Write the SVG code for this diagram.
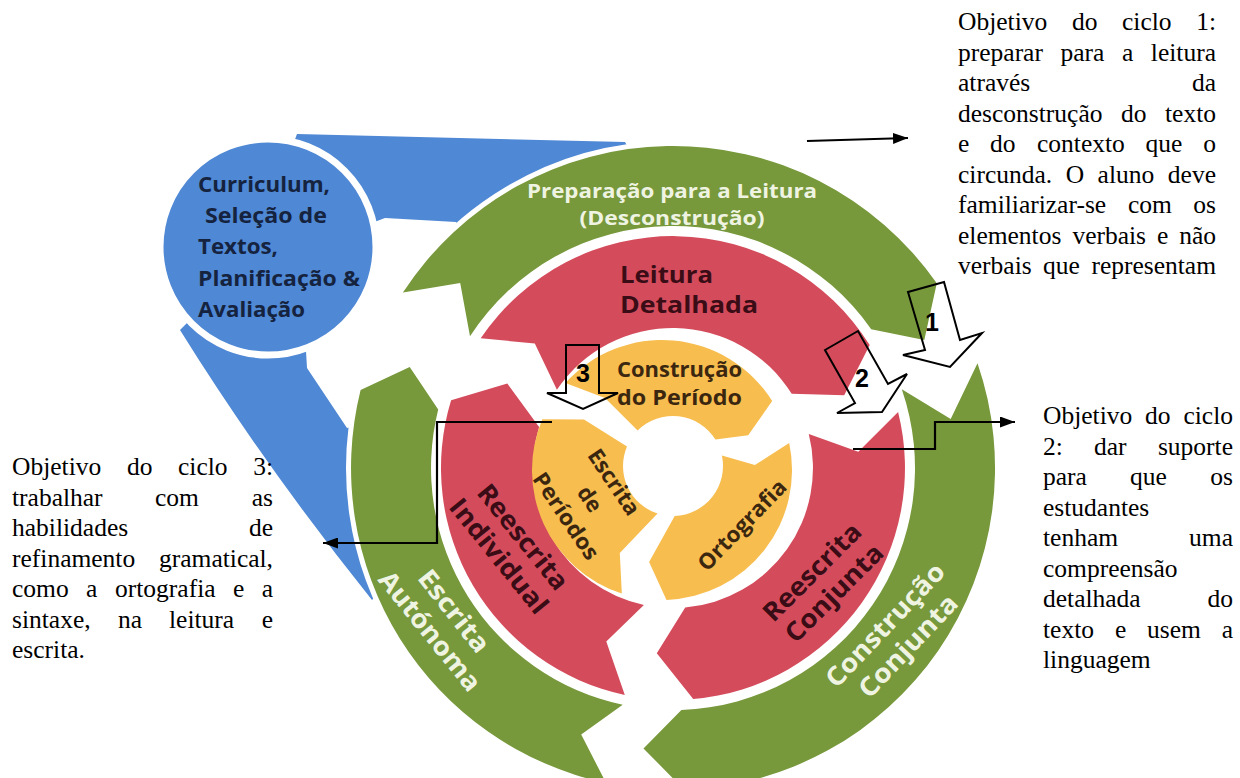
<svg xmlns="http://www.w3.org/2000/svg" width="1240" height="778" viewBox="0 0 1240 778">
<style>
.g{fill:#77983b;stroke:#fff;stroke-width:10;paint-order:stroke;stroke-linejoin:round}
.r{fill:#d44c5c}
.y{fill:#f7bd4f}
.bl{fill:#4f88d4}
.lbl{font-family:"Open Sans","Liberation Sans",sans-serif;font-weight:700}
.gt{fill:#eff4e2}
.rt{fill:#3a0c16}
.yt{fill:#3b2710}
.ct{fill:#15233f;font-size:21px}
.para{font-family:"Liberation Serif","Times New Roman",serif;font-size:25.5px;fill:#000}
.e{text-anchor:end}
.blk{fill:none;stroke:#000;stroke-width:2;stroke-linejoin:miter}
.num{font-family:"Liberation Sans",Arial,sans-serif;font-weight:700;font-size:25px;fill:#000}
.cn{fill:none;stroke:#000;stroke-width:2.2}
</style>
<defs>
<marker id="ah" viewBox="0 0 10 10" refX="10" refY="5" markerUnits="userSpaceOnUse" markerWidth="15" markerHeight="11" orient="auto" preserveAspectRatio="none"><path d="M0,0 L10,5 L0,10 Z" fill="#000"/></marker>
</defs>
<rect width="1240" height="778" fill="#fff"/>

<g id="planning">
<path class="bl" d="M180,330 L250,260 L297,134 L625,142 L648,182 L479,253 L456,222 L385,218 L300,250 L307,368 L347,428 L387,418 L401,567 L372,600 Q264,465 180,330 Z"/>
<circle class="bl" cx="268" cy="247" r="108" stroke="#fff" stroke-width="7"/>
<g class="lbl ct">
<text x="198" y="192" textLength="132" lengthAdjust="spacingAndGlyphs">Curriculum,</text>
<text x="205" y="223" textLength="122" lengthAdjust="spacingAndGlyphs">Seleção de</text>
<text x="198" y="254" textLength="80" lengthAdjust="spacingAndGlyphs">Textos,</text>
<text x="198" y="286" textLength="162" lengthAdjust="spacingAndGlyphs">Planificação &amp;</text>
<text x="198" y="317" textLength="107" lengthAdjust="spacingAndGlyphs">Avaliação</text>
</g>
</g>

<g id="cycle1-preparacao">
<path class="g" d="M402.9,292.6 A322,322 0 0 1 936.8,283.3 L924.3,340.0 L871.2,329.2 A242,242 0 0 0 470.0,336.2 L460.2,283.0 Z"/>
<text class="lbl gt" x="672" y="198" font-size="20" text-anchor="middle" textLength="290" lengthAdjust="spacingAndGlyphs">Preparação para a Leitura</text>
<text class="lbl gt" x="672" y="225" font-size="20" text-anchor="middle" textLength="185" lengthAdjust="spacingAndGlyphs">(Desconstrução)</text>
</g>
<g id="cycle1-construcao">
<path class="g" d="M977.5,363.2 A322,322 0 0 1 684.2,789.8 L643.5,748.4 L681.4,709.9 A242,242 0 0 0 901.8,389.2 L950.7,419.0 Z"/>
<text class="lbl gt" transform="translate(885,625) rotate(-46.5)" font-size="26" text-anchor="middle" dy="0.35em" textLength="160" lengthAdjust="spacingAndGlyphs">Construção</text>
<text class="lbl gt" transform="translate(908,646) rotate(-46.5)" font-size="26" text-anchor="middle" dy="0.35em" textLength="131" lengthAdjust="spacingAndGlyphs">Conjunta</text>
</g>
<g id="cycle1-autonoma">
<path class="g" d="M606.1,783.0 A322,322 0 0 1 360.6,390.1 L409.7,366.9 L438.2,409.5 A242,242 0 0 0 622.7,704.7 L581.2,734.6 Z"/>
<text class="lbl gt" transform="translate(454,611) rotate(51.5)" font-size="26" text-anchor="middle" dy="0.35em" textLength="98" lengthAdjust="spacingAndGlyphs">Escrita</text>
<text class="lbl gt" transform="translate(430,631) rotate(51)" font-size="26" text-anchor="middle" dy="0.35em" textLength="146" lengthAdjust="spacingAndGlyphs">Autónoma</text>
</g>

<g id="cycle2-leitura">
<path class="r" d="M480.7,338.3 A232,232 0 0 1 869.7,345.1 L844.2,395.3 L791.7,393.8 A140,140 0 0 0 556.9,389.7 L534.8,343.5 Z"/>
<text class="lbl rt" x="620" y="283" font-size="24" textLength="93" lengthAdjust="spacingAndGlyphs">Leitura</text>
<text class="lbl rt" x="620" y="313" font-size="24" textLength="138" lengthAdjust="spacingAndGlyphs">Detalhada</text>
</g>
<g id="cycle2-conjunta">
<path class="r" d="M898.1,411.9 A232,232 0 0 1 693.2,699.1 L656.8,653.3 L685.2,607.5 A140,140 0 0 0 808.8,434.1 L858.3,451.8 Z"/>
<text class="lbl rt" transform="translate(812,572) rotate(-45)" font-size="26" text-anchor="middle" dy="0.35em" textLength="127" lengthAdjust="spacingAndGlyphs">Reescrita</text>
<text class="lbl rt" transform="translate(834,593) rotate(-45)" font-size="26" text-anchor="middle" dy="0.35em" textLength="127" lengthAdjust="spacingAndGlyphs">Conjunta</text>
</g>
<g id="cycle2-individual">
<path class="r" d="M624.8,694.9 A232,232 0 0 1 451.1,400.2 L507.3,383.6 L539.1,427.1 A140,140 0 0 0 643.9,604.9 L606.3,641.6 Z"/>
<text class="lbl rt" transform="translate(523,537) rotate(51)" font-size="26" text-anchor="middle" dy="0.35em" textLength="128" lengthAdjust="spacingAndGlyphs">Reescrita</text>
<text class="lbl rt" transform="translate(499,556) rotate(51)" font-size="26" text-anchor="middle" dy="0.35em" textLength="140" lengthAdjust="spacingAndGlyphs">Individual</text>
</g>

<g id="cycle3-construcao">
<path class="y" d="M565.4,383.0 A130,130 0 0 1 772.2,401.1 L748.2,435.2 L715.4,439.5 A50,50 0 0 0 637.6,430.6 L605.0,398.0 Z"/>
<text class="lbl yt" x="617" y="377" font-size="21" textLength="125" lengthAdjust="spacingAndGlyphs">Construção</text>
<text class="lbl yt" x="617" y="405" font-size="21" textLength="125" lengthAdjust="spacingAndGlyphs">do Período</text>
</g>
<g id="cycle3-ortografia">
<path class="y" d="M789.2,443.0 A130,130 0 0 1 666.5,599.9 L649.1,562.1 L674.7,516.0 A50,50 0 0 0 721.9,455.6 L754.9,465.1 Z"/>
<text class="lbl yt" transform="translate(742,525) rotate(-46)" font-size="22" text-anchor="middle" dy="0.35em" textLength="117" lengthAdjust="spacingAndGlyphs">Ortografia</text>
</g>
<g id="cycle3-escrita">
<path class="y" d="M621.8,593.6 A130,130 0 0 1 542.3,419.2 L584.0,419.4 L627.0,446.5 A50,50 0 0 0 657.5,513.6 L619.8,552.9 Z"/>
<text class="lbl yt" transform="translate(614,482) rotate(56)" font-size="22" text-anchor="middle" dy="0.35em" textLength="75" lengthAdjust="spacingAndGlyphs">Escrita</text>
<text class="lbl yt" transform="translate(590,499) rotate(56)" font-size="22" text-anchor="middle" dy="0.35em" textLength="26" lengthAdjust="spacingAndGlyphs">de</text>
<text class="lbl yt" transform="translate(566,516) rotate(56)" font-size="22" text-anchor="middle" dy="0.35em" textLength="100" lengthAdjust="spacingAndGlyphs">Períodos</text>
</g>

<g id="arrow-1">
<polygon class="blk" points="908,292 944,282 960,340 982,333 950,367 903,355 925,350"/>
<text class="num" x="932" y="331" text-anchor="middle">1</text>
</g>
<g id="arrow-2">
<polygon class="blk" points="825,350 858,331 888,384 907,374 882,412 837,413 855,403"/>
<text class="num" x="862" y="387" text-anchor="middle">2</text>
</g>
<g id="arrow-3">
<polygon class="blk" points="566,345 599,345 599,393 618,393 583,409 547,393 566,393"/>
<text class="num" x="583" y="382" text-anchor="middle">3</text>
</g>

<g id="connectors">
<path class="cn" d="M807,141 L908,138" marker-end="url(#ah)"/>
<path class="cn" d="M552,422 H437 V543 H323" marker-end="url(#ah)"/>
<path class="cn" d="M853,449 H935 V422 H1015" marker-end="url(#ah)"/>
</g>

<g id="note-cycle1" class="para">
<text y="30"><tspan x="958">Objetivo</tspan><tspan x="1072">do</tspan><tspan x="1122">ciclo</tspan></text><text class="e" x="1216" y="30">1:</text>
<text y="60.5"><tspan x="958">preparar</tspan><tspan x="1060.5">para</tspan><tspan x="1122">a</tspan></text><text class="e" x="1216" y="60.5">leitura</text>
<text x="958" y="91">através</text><text class="e" x="1216" y="91">da</text>
<text y="121.5"><tspan x="958">desconstrução</tspan><tspan x="1121">do</tspan></text><text class="e" x="1216" y="121.5">texto</text>
<text y="152"><tspan x="958">e</tspan><tspan x="990">do</tspan><tspan x="1037">contexto</tspan><tspan x="1145.5">que</tspan></text><text class="e" x="1216" y="152">o</text>
<text y="182.5"><tspan x="958">circunda.</tspan><tspan x="1065.7">O</tspan><tspan x="1097.6">aluno</tspan></text><text class="e" x="1216" y="182.5">deve</text>
<text y="213"><tspan x="958">familiarizar-se</tspan><tspan x="1128">com</tspan></text><text class="e" x="1216" y="213">os</text>
<text y="243.5"><tspan x="958">elementos</tspan><tspan x="1072.4">verbais</tspan><tspan x="1157">e</tspan></text><text class="e" x="1216" y="243.5">não</text>
<text y="274"><tspan x="958">verbais</tspan><tspan x="1043">que</tspan></text><text class="e" x="1216" y="274">representam</text>
</g>

<g id="note-cycle2" class="para">
<text y="424"><tspan x="1043">Objetivo</tspan><tspan x="1145">do</tspan></text><text class="e" x="1233" y="424">ciclo</text>
<text y="454.5"><tspan x="1043">2:</tspan><tspan x="1094">dar</tspan></text><text class="e" x="1233" y="454.5">suporte</text>
<text y="485"><tspan x="1043">para</tspan><tspan x="1130">que</tspan></text><text class="e" x="1233" y="485">os</text>
<text x="1043" y="515.5">estudantes</text>
<text x="1043" y="546">tenham</text><text class="e" x="1233" y="546">uma</text>
<text x="1043" y="576.5">compreensão</text>
<text x="1043" y="607">detalhada</text><text class="e" x="1233" y="607">do</text>
<text y="637.5"><tspan x="1043">texto</tspan><tspan x="1115">e</tspan><tspan x="1147">usem</tspan></text><text class="e" x="1233" y="637.5">a</text>
<text x="1043" y="668">linguagem</text>
</g>

<g id="note-cycle3" class="para">
<text y="475"><tspan x="12">Objetivo</tspan><tspan x="127">do</tspan><tspan x="178">ciclo</tspan></text><text class="e" x="273" y="475">3:</text>
<text y="505.5"><tspan x="12">trabalhar</tspan><tspan x="155">com</tspan></text><text class="e" x="273" y="505.5">as</text>
<text x="12" y="536">habilidades</text><text class="e" x="273" y="536">de</text>
<text x="12" y="566.5">refinamento</text><text class="e" x="273" y="566.5">gramatical,</text>
<text y="597"><tspan x="12">como</tspan><tspan x="86">a</tspan><tspan x="115">ortografia</tspan><tspan x="233">e</tspan></text><text class="e" x="273" y="597">a</text>
<text y="627.5"><tspan x="12">sintaxe,</tspan><tspan x="118">na</tspan><tspan x="169">leitura</tspan></text><text class="e" x="273" y="627.5">e</text>
<text x="12" y="658">escrita.</text>
</g>
</svg>
